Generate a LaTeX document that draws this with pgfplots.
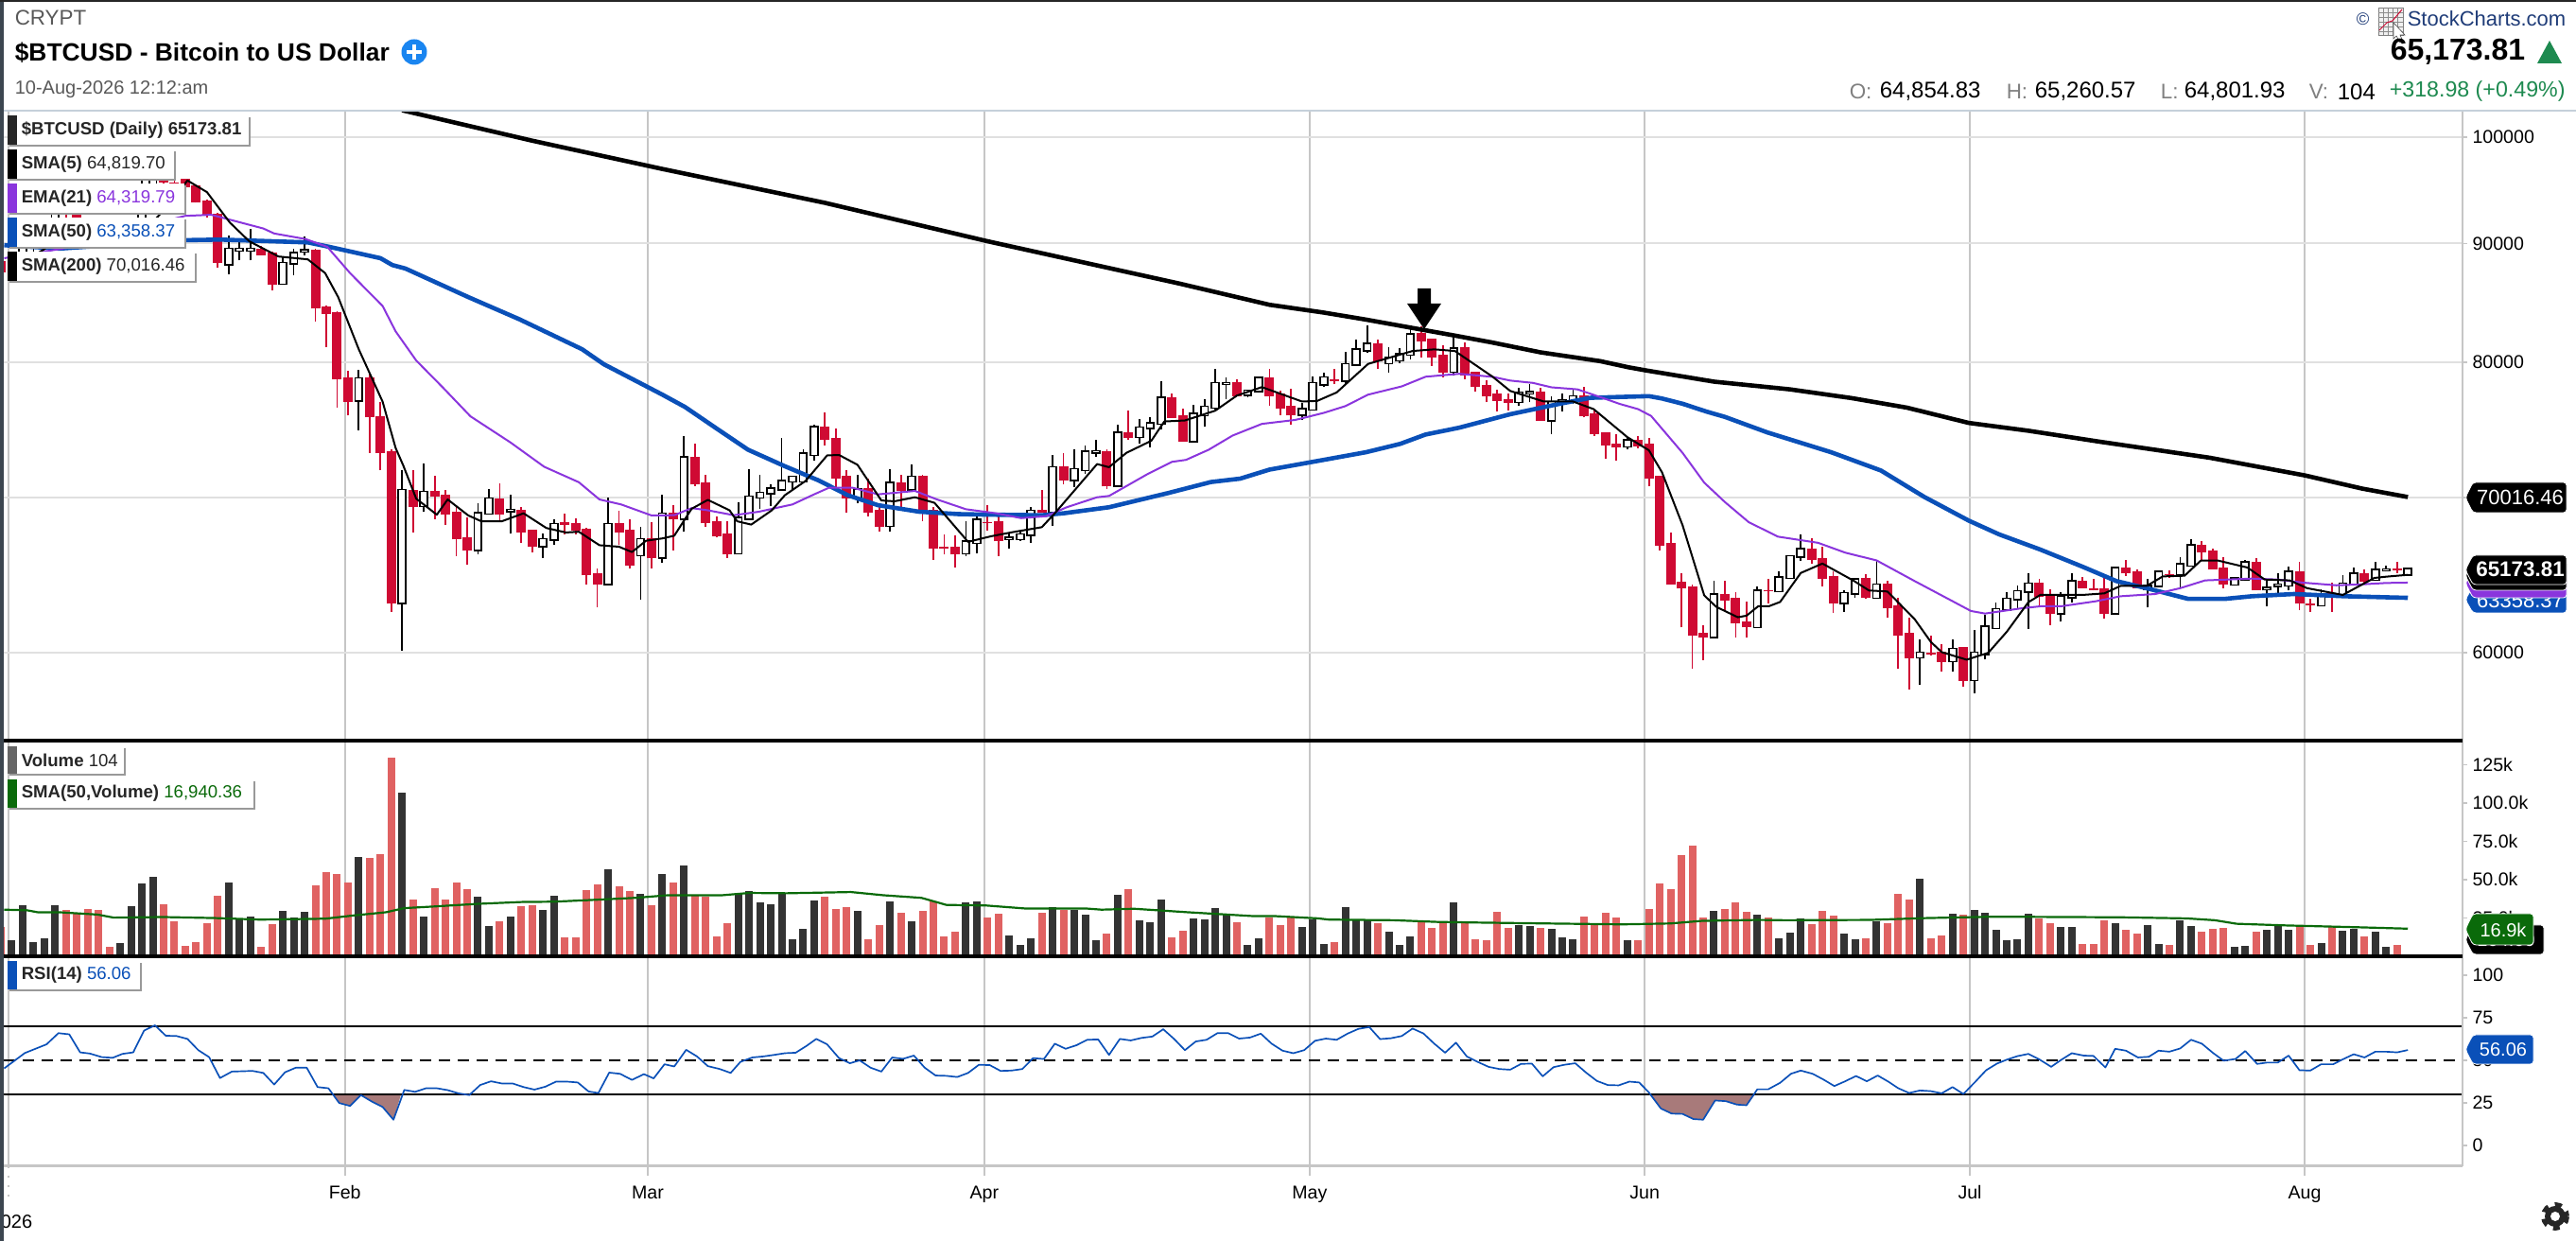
\documentclass[border=0pt]{standalone}
\usepackage{pgfplots}
\usepackage{pgfplotstable}
\usepackage{fontspec}
\setmainfont{Liberation Sans}
\pgfplotsset{compat=1.18}
\definecolor{cred}{HTML}{CF0A33}
\definecolor{vred}{HTML}{E06262}
\definecolor{vblk}{HTML}{333333}
\definecolor{pur}{HTML}{8A35DD}
\definecolor{blu}{HTML}{0A50B8}
\definecolor{grn}{HTML}{0A6A0A}
\definecolor{upg}{HTML}{1E8A50}
\definecolor{vgrid}{HTML}{C6C6C6}
\definecolor{hgrid}{HTML}{E0E0E0}
\definecolor{strip}{HTML}{3C4650}
\definecolor{brn}{HTML}{A87A7A}
\definecolor{navy}{HTML}{1F3C78}
\definecolor{plusb}{HTML}{1A85F0}
\definecolor{topl}{HTML}{C5D0DA}
\newcommand\fs[1]{\fontsize{#1pt}{#1pt}\selectfont}

% d open high low close -- candles that closed higher
\pgfplotstableread{
d o h l c
0 87600 88900 87400 88700
1 88700 90900 88400 89900
2 89900 91000 89300 90600
3 90600 91800 90300 91500
4 91500 94700 91300 93900
10 90400 91000 90300 90900
11 90900 92300 90000 91200
12 91200 96000 91000 95300
13 95300 97800 94900 96900
20 88200 90700 87300 89500
21 89400 90300 88500 89500
22 89400 91300 88500 89500
25 86500 88800 86400 88250
26 88250 89500 87250 89150
27 89300 90600 88950 89400
32 77050 79400 74800 78750
36 63050 71900 60140 70500
38 69400 72400 69000 70350
43 66450 69600 66150 68900
44 68900 70550 68850 69900
46 69050 70200 67500 69100
49 66700 67500 65900 67150
50 67150 68500 66800 68150
55 64250 70000 64250 68150
58 66100 67950 63220 67150
60 65950 70200 65590 68840
62 68540 74380 67640 72800
67 66220 69630 66220 68560
68 68540 71990 68540 70020
69 70000 71600 69200 70300
70 70280 70880 69370 70580
71 70550 74240 70550 71130
72 71110 71500 70490 71410
73 71130 73380 71130 73080
74 73030 75190 72570 75020
78 70000 71600 69570 70530
81 68050 71990 67640 71000
83 70550 72290 70550 71410
88 66220 68330 66060 66970
89 66930 68700 66200 68430
92 67200 67580 66520 67240
93 67170 67680 67050 67460
94 67440 69310 66910 69050
96 69000 72990 68030 72100
98 71230 73380 70720 71970
99 71920 73680 71640 73220
100 73200 74070 72850 73240
102 70830 75190 70830 74610
104 74310 75630 73820 75000
105 74980 75760 73570 75300
106 75300 78540 74840 77250
109 74000 76690 74000 76000
110 75950 77150 75070 76550
111 76500 79510 76390 78360
112 78340 78820 77150 78380
114 77480 77890 77320 77800
115 77780 78940 77620 78770
119 75970 76850 75580 76390
120 76390 78940 76390 78360
121 78310 79170 78130 78800
123 78590 80830 78240 79860
124 79860 81850 79860 81000
125 80970 82970 80780 81450
127 79980 81200 79230 80380
128 80160 81180 79980 80640
129 80640 82800 80240 82250
133 79280 82050 79000 81100
139 76950 77990 76620 77640
140 77620 78290 76900 77660
142 75560 77380 74540 76920
143 77020 77550 76200 77060
144 77010 77940 76780 77360
149 73630 74300 73400 74050
157 60950 64430 60950 63560
161 61560 64080 61560 63800
163 63780 65040 63720 64650
164 64630 66000 64530 66000
165 66000 67480 65710 66480
169 63050 63820 62500 63660
170 63660 64570 63350 64510
172 63390 65750 63390 64170
176 59750 60780 58130 60000
179 59530 60780 58880 60220
181 58410 61380 57640 60000
182 59940 62320 59590 61570
183 61510 63060 61430 62650
184 62650 63710 62650 63300
185 63300 64150 62650 63770
186 63770 64930 61430 64250
189 62400 63710 61870 63400
190 63400 64930 63090 64380
194 62400 65230 62400 65230
197 63950 64560 62750 64100
198 64110 64990 64110 64990
200 64850 65990 64010 65500
201 65440 67130 65440 66720
205 64230 64680 64110 64560
206 64520 65780 64460 65620
208 63900 64420 62850 63970
209 64130 64930 63600 64170
210 64150 65380 63810 64990
213 62890 63910 62890 63600
215 63570 64790 63500 64240
216 64280 65300 64110 64870
218 64520 65640 64420 65130
219 65110 65440 65030 65150
221 64854.83 65260.57 64801.93 65173.81
}\upc

% d open high low close -- candles that closed lower
\pgfplotstableread{
d o h l c
-1 88400 89000 87300 87500
5 93900 94400 91300 93700
6 93700 93700 90900 91300
7 91300 91500 89600 91000
8 91000 91800 89800 90600
9 90600 91400 90100 90400
14 96900 97200 95100 95600
15 95600 95900 94900 95500
16 95900 96000 95000 95200
17 95300 95400 93700 93800
18 93900 94000 92350 92600
19 92700 92800 87900 88300
23 89500 89800 88950 89000
24 89150 89300 85900 86400
28 89400 89500 83300 84400
29 84500 84600 81200 83950
30 84050 84150 76500 78720
31 78800 79350 75900 77000
33 78800 79200 73150 75800
34 75850 76900 71900 73150
35 73250 73400 62500 63000
37 70500 71900 67600 69350
39 70400 71500 68500 70050
40 70150 70500 68100 68850
41 68950 69450 66050 67150
42 67250 68600 65450 66400
45 69900 71000 68350 68850
47 69100 69350 66900 67650
48 67750 67800 66250 66700
51 68250 68850 67450 68150
52 68200 68550 67450 67750
53 67800 67900 64200 64800
54 64900 65250 62760 64250
56 68200 69050 66750 67650
57 67750 68500 65200 65450
59 67200 68300 65250 65900
61 68940 69450 66420 68500
63 72850 73820 70790 70900
64 71040 71600 67990 68230
65 68330 68700 67280 67380
66 67480 68350 65910 66160
75 75070 76180 73680 74120
76 74240 74930 70720 71340
77 71460 71880 68960 69960
79 70600 71300 68700 68940
80 69090 69370 67640 67990
82 71040 71600 69310 70490
84 71460 71600 68350 68940
85 69110 69350 65810 66540
86 66620 67480 66120 66540
87 66620 67380 65300 66160
90 68300 69450 67740 68250
91 68330 68700 66060 67030
95 69100 70490 68940 68940
97 72150 73130 70900 71180
101 73260 73430 70600 70760
103 74630 76320 74120 74240
107 77270 77570 75760 75760
108 75880 76440 73980 73980
113 78400 78700 77390 77430
116 78820 79510 76620 77430
117 77550 77780 75930 76480
118 76600 77960 75230 75930
122 78620 79500 78310 78560
126 81500 81850 79500 80100
130 82330 82900 80400 81700
131 81850 81850 79750 80400
132 80560 81370 78860 79230
134 81180 81600 78700 79000
135 79230 79230 77710 78130
136 78240 78630 76900 77430
137 77550 77850 76200 77040
138 77150 77550 76320 76900
141 77710 77990 75510 75510
145 77380 78130 75760 75880
146 76040 76390 74400 74540
147 74630 74630 72710 73700
148 73820 74540 72570 73560
150 74070 74380 73500 73660
151 73820 74240 70760 71320
152 71460 71460 66400 66770
153 66890 67620 64200 64200
154 64330 64940 61520 63960
155 64080 64230 59080 61030
156 61160 61650 59570 60930
158 63600 64430 62600 63230
159 63350 63720 60910 61790
160 61890 63100 60910 61540
162 63820 64570 63000 63780
166 66520 67230 65550 65790
167 65910 66670 64080 64590
168 64690 65040 62400 63000
171 64570 64840 63310 63370
173 64210 64430 62130 62760
174 62860 63350 59080 61030
175 61160 62130 57870 59700
177 59980 61010 59860 59900
178 60060 60530 58880 59490
180 60300 60300 58030 58370
187 64300 64560 62790 63460
188 63460 63900 61670 62380
191 64420 64680 63970 63970
192 63910 64560 63810 63850
193 63910 64680 62040 62380
195 65270 65780 64730 64930
196 65030 65170 63970 63970
199 64850 65130 64620 64800
202 66760 67000 65780 66290
203 66390 66500 65190 65190
204 65290 65990 63970 64210
207 65640 65900 63850 63850
211 65030 65640 62590 63000
212 62980 63300 62490 62930
214 63620 64320 62490 63580
217 64910 65170 64320 64420
220 65180 65640 64930 65100
}\downc

\pgfplotsset{
  panel/.style={
    scale only axis, width=650pt,
    xmin=-0.741, xmax=226.04,
    axis line style={draw=none},
    xtick={-0.305,30.72,58.66,89.7,119.7,150.6,180.6,211.47},
    xmajorgrids, x grid style={vgrid,line width=0.5pt},
    x tick style={draw=none},
    ytick pos=right, yticklabel pos=right,
    ytick align=outside,
    major tick length=1.25pt,
    y tick style={draw=vgrid,line width=0.4pt},
    tick label style={font=\fs{4.9}},
    yticklabel style={anchor=west,xshift=-2.15pt},
    clip=true,
  },
  wick/.style={draw=none,mark=none,forget plot,
    error bars/.cd,y dir=plus,y explicit,error mark=none,
    error bar style={draw=#1,line width=0.45pt,solid}},
  body/.style n args={3}{draw=none,mark=none,forget plot,
    error bars/.cd,y dir=plus,y explicit,error mark=none,
    error bar style={draw=#1,line width=#2,solid,line cap=butt,shorten >=#3,shorten <=#3}},
}

\begin{document}
\begin{tikzpicture}
\useasboundingbox (0,0) rectangle (681pt,328pt);
\fill[white] (0,0) rectangle (681pt,328pt);

% ---- price panel
\begin{axis}[panel, at={(1pt,132.25pt)}, anchor=south west, height=166.5pt,
  ymode=log, ymin=55008, ymax=102680, yminorticks=false,
  ytick={60000,70000,80000,90000,100000},
  yticklabels={60000,70000,80000,90000,100000},
  ymajorgrids, y grid style={hgrid,line width=0.5pt},
  xticklabels={}]
\addplot[wick=cred] table[x=d,y=l,y error plus expr=\thisrow{h}-\thisrow{l}]{\downc};
\addplot[wick=black] table[x=d,y=l,y error plus expr=\thisrow{h}-\thisrow{l}]{\upc};
\addplot[body={cred}{2.5pt}{-0.1pt}] table[x=d,y=c,y error plus expr=\thisrow{o}-\thisrow{c}]{\downc};
\addplot[body={black}{2.4pt}{-0.375pt}] table[x=d,y=o,y error plus expr=\thisrow{c}-\thisrow{o}]{\upc};
\addplot[body={white}{1.5pt}{0pt}] table[x=d,y=o,y error plus expr=\thisrow{c}-\thisrow{o}]{\upc};
% SMA(200)
\addplot[black,line width=1.15pt,line join=round] coordinates {
(36,102700)(48,99650)(60,96900)(75,93700)(90,90200)(107.7,86500)(116,84700)(121,84050)(125,83450)(133,82170)(136.5,81600)(141,80800)(146.5,80100)(149.1,79630)(150.6,79400)(157,78500)(164,77900)(169.7,77230)(174.8,76500)(180.5,75350)(186,74770)(192.6,73960)(202.7,72800)(211.5,71530)(216.8,70600)(221,70016.46)};
% SMA(50)
\addplot[blu,line width=1.15pt,line join=round] coordinates {
(-0.7,89850)(4.4,89550)(16,90300)(19.2,90350)(27.3,90100)(29.3,89700)(34,88700)(35.1,88100)(36.3,87800)(42.1,85350)(46.8,83500)(52.6,81050)(54.6,79870)(60,77500)(62.1,76550)(65.1,74880)(67.9,73380)(71.3,72180)(74.4,71180)(77.1,70140)(79.9,69450)(83.7,69000)(87.3,68840)(90.4,68800)(95,68760)(97,68900)(101.2,69310)(106.7,70300)(110.6,71060)(113.3,71300)(116,71940)(121,72640)(124.9,73200)(128.05,73800)(130.4,74490)(133.5,75000)(138.2,76000)(142.8,76800)(145.6,77250)(151,77380)(152.2,77200)(154.1,76800)(156.3,76200)(158,75810)(161.9,74650)(167.8,73190)(172.4,71880)(176.4,70020)(180.5,68390)(183.3,67470)(187.1,66460)(191,65340)(194.1,64420)(197.2,63910)(200.7,63300)(204.2,63300)(206.6,63460)(210.5,63600)(215.2,63460)(221,63358.37)};
% EMA(21)
\addplot[pur,line width=0.5pt,line join=round] coordinates {
(-0.7,88700)(5,89600)(10,90800)(14,92000)(16,92500)(18.4,92600)(23.2,91350)(24.2,90900)(27.1,90400)(29.1,89700)(31.2,87400)(34.2,84600)(35.4,82500)(37.3,80150)(39.8,78000)(42.3,75850)(46,73900)(49.1,72150)(52.3,71050)(54.2,69850)(56.2,69500)(59,68750)(61.1,68760)(62.7,69250)(64.2,69100)(66.6,68760)(68.9,69000)(72,69500)(74,70200)(75.4,70670)(77.5,70670)(79.9,70200)(83.3,70440)(85.3,69860)(88,69170)(90.8,68900)(93.1,68560)(95.4,68700)(97.3,69310)(100.1,70000)(101.2,70090)(104.7,71600)(107,72500)(108.3,72640)(110.4,73380)(112.6,74420)(115.3,75280)(118.4,75580)(121,76100)(123,76620)(125.1,77500)(128.2,78130)(130.4,78890)(133.5,79120)(136.6,78870)(138.2,78590)(140.3,78400)(142,78060)(144.4,77900)(146.7,77250)(148.3,76780)(150,76390)(151.2,75880)(154.1,73150)(156.1,71020)(158,69670)(160.2,68290)(162.9,67320)(166.6,66910)(169.1,66260)(172,65750)(175.5,64420)(179,63150)(180.7,62540)(182,62380)(185.2,62690)(187.1,62830)(189,62830)(192.2,63140)(194.5,63460)(197.7,63600)(200,63970)(202.3,64460)(206.6,64580)(209,64520)(211.3,64320)(214.4,64150)(216.7,64210)(219,64300)(221,64319.79)};
% SMA(5)
\addplot[black,line width=0.5pt,line join=round] coordinates {
(0,87800)(3,89500)(6,92000)(9,91800)(12,90900)(14,93000)(16.2,95800)(18,94700)(20.1,91900)(21.9,90200)(24.6,88850)(27.3,88600)(28.9,87400)(30.1,85350)(32,81050)(34.2,76950)(35.4,73500)(36.1,72250)(37.3,69900)(39.2,68800)(40.2,69850)(42.1,68750)(43.3,68350)(45.2,68350)(47.2,68900)(49.3,67900)(51.1,67600)(52.3,67650)(54.2,66750)(56,66650)(57.2,66300)(58.5,67050)(60,67200)(61.1,67380)(62.7,69200)(64.2,69820)(66.2,69100)(66.9,68350)(68.2,68130)(70.1,69100)(71.3,70140)(73.2,71130)(75.2,72960)(76.3,72990)(78,72290)(80.2,69780)(81.4,69720)(83.3,70000)(85.1,69610)(88.2,66970)(90.3,67340)(92.3,67620)(95,67950)(96.2,68900)(100.1,72340)(101.2,72110)(102.8,73150)(105.1,74030)(106.3,75460)(108.2,75530)(111,76270)(113,77430)(115.3,78080)(119,76970)(120.4,77010)(122.2,77660)(125.1,79900)(127.3,80430)(129.2,80910)(131.2,81040)(133.1,80910)(136.6,78870)(138.2,77780)(141.3,76970)(144,76970)(145.9,76390)(149,74300)(151,73330)(152.2,71760)(154.1,68090)(156.1,63510)(157.2,62800)(159.2,62150)(160,62250)(161.1,62840)(162.1,62840)(163.1,63100)(165,64940)(167,65550)(169.9,64430)(171.3,63820)(173,63760)(175.5,62040)(177,60650)(178,60040)(180.3,59590)(182.3,60000)(184,61260)(186,63090)(187.1,63540)(191,63540)(193,63640)(194.5,64110)(196.9,64110)(198.4,64720)(200.4,64760)(201.9,65740)(203.5,65740)(206.2,65290)(207.8,64520)(210.1,64460)(211.7,63970)(215,63540)(217.9,64620)(219,64700)(221,64819.70)};
\end{axis}

% ---- volume panel
\begin{axis}[panel, at={(1pt,75.25pt)}, anchor=south west, height=57pt,
  ymin=0, ymax=140.7,
  ytick={25,50,75,100,125},
  yticklabels={25.0k,50.0k,75.0k,100.0k,125k},
  xticklabels={}]
\addplot[ycomb,vred,line width=2pt,forget plot] table[x=d,y=v]{
d v
-1 18.9
5 30.4
6 28.3
7 30.8
8 30.2
9 5.9
14 34.2
15 23.1
16 6.7
17 9.4
18 21.6
19 39.2
23 6.3
24 20.8
28 46.1
29 54.9
30 53.4
31 48.2
33 63.9
34 66.4
35 129.3
37 36.7
39 44.6
40 36.7
41 48.4
42 44.0
45 23.1
47 32.9
48 33.3
51 12.6
52 12.6
53 43.4
54 46.7
56 45.9
57 42.5
59 33.1
61 48.4
63 39.8
64 39.0
65 12.8
66 21.8
75 39.0
76 31.0
77 32.3
79 11.1
80 20.1
82 28.3
84 29.6
85 35.6
86 13.2
87 15.9
90 25.4
91 27.5
95 28.1
97 30.0
101 14.7
103 44.0
107 12.2
108 16.8
113 22.2
116 25.2
117 20.1
118 25.2
122 9.4
126 21.6
130 22.4
131 18.2
132 22.4
134 23.1
135 10.9
136 10.7
137 28.7
138 18.2
141 18.4
145 26.0
146 21.4
147 28.3
148 25.2
150 10.3
151 30.6
152 47.4
153 44.0
154 65.8
155 71.9
156 25.2
158 30.8
159 35.0
160 28.7
162 25.4
166 20.8
167 29.3
168 26.6
171 11.5
173 21.6
174 40.7
175 36.7
177 11.9
178 13.8
180 27.0
187 24.7
188 21.4
191 7.8
192 7.8
193 23.7
195 17.4
196 15.1
199 7.3
202 16.3
203 17.6
204 18.2
207 15.9
211 20.5
212 7.3
214 18.9
217 12.8
220 7.1
};
\addplot[ycomb,vblk,line width=2pt,forget plot] table[x=d,y=v]{
d v
0 10.5
1 33.1
2 9.4
3 11.5
4 33.5
10 8.4
11 32.9
12 47.2
13 52.0
20 48.2
21 24.7
22 26.2
25 29.8
26 25.2
27 28.7
32 64.8
36 106.9
38 25.6
43 38.8
44 19.5
46 25.8
49 30.4
50 39.2
55 57.0
58 40.5
60 53.9
62 59.5
67 41.1
68 42.5
69 35.4
70 34.2
71 41.3
72 10.9
73 17.6
74 36.5
78 29.3
81 35.6
83 22.6
88 35.0
89 35.6
92 13.8
93 7.5
94 11.5
96 32.3
98 30.4
99 27.2
100 10.7
102 39.8
104 23.3
105 22.4
106 36.9
109 24.5
110 24.1
111 31.2
112 27.2
114 7.5
115 11.5
119 19.1
120 24.1
121 7.8
123 32.1
124 23.7
125 23.7
127 15.9
128 7.5
129 13.2
133 35.0
139 20.1
140 19.5
142 17.8
143 12.6
144 10.9
149 10.5
157 29.3
161 27.0
163 11.7
164 15.3
165 24.7
169 14.5
170 11.3
172 22.6
176 50.3
179 27.7
181 30.0
182 28.3
183 17.2
184 10.7
185 10.9
186 27.5
189 18.9
190 18.9
194 21.6
197 20.1
198 7.8
200 23.3
201 19.5
205 6.1
206 6.9
208 17.0
209 19.7
210 17.4
213 8.8
215 16.8
216 17.6
218 15.9
219 5.9
221 0.104
};
\addplot[grn,line width=0.55pt,line join=round] coordinates {
(-0.7,30.4)(1.4,30.0)(2.4,28.7)(4.4,28.7)(7.9,27.2)(9.4,25.2)(13.9,25.6)(18.9,24.9)(22.9,23.9)(28.9,24.5)(31.5,26.6)(34.5,28.7)(36.2,31.4)(39,32.5)(43,34.2)(47,35.4)(50,35.6)(54,36.9)(57.5,38.1)(60.5,39.8)(65.5,39.8)(68,41.3)(71.5,41.1)(77.4,41.9)(80.4,39.8)(83.9,38.1)(86.2,33.5)(89.9,33.1)(93.4,31.2)(99,31.2)(100.5,30.4)(103.5,31.0)(108.5,28.7)(114.5,26.2)(116.5,26.2)(120.5,24.7)(121.5,23.9)(127.5,23.5)(131.5,22.4)(135,22.0)(141.5,21.4)(148.5,20.8)(153,21.4)(155.9,23.1)(161,23.7)(163.6,23.5)(171.3,23.7)(176.5,24.9)(182.6,25.8)(189.5,25.6)(194.7,25.4)(200.6,24.7)(203.2,23.5)(205.2,21.2)(209.8,20.1)(216.5,18.9)(221,18.0)};
\end{axis}

% ---- RSI panel
\begin{axis}[panel, at={(1pt,19.825pt)}, anchor=south west, height=55.425pt,
  ymin=-12.09, ymax=111.2,
  ytick={0,25,50,75,100},
  yticklabels={0,25,50,75,100},
  xticklabels={,Feb,Mar,Apr,May,Jun,Jul,Aug},
  xticklabel style={yshift=-1.7pt}]
\addplot[fill=brn,draw=none,forget plot] coordinates {(29.6,30)(30.2,24.9)(31.2,23.2)(32.2,29.6)(33.2,25.8)(34.2,22.6)(35.2,15.1)(35.9,30)};
\addplot[fill=brn,draw=none,forget plot] coordinates {(151.1,30)(152.1,21.7)(153.1,18.7)(154.1,18.5)(155.1,15.5)(156,15.1)(157.1,26.4)(158.1,26)(159.1,24)(160,23.6)(160.8,30)};
\addplot[black,line width=0.5pt,forget plot] coordinates {(-0.741,70)(226.04,70)};
\addplot[black,line width=0.5pt,forget plot] coordinates {(-0.741,30)(226.04,30)};
\addplot[black,line width=0.5pt,dash pattern=on 3pt off 2pt,forget plot] coordinates {(-0.741,50)(226.04,50)};
\addplot[blu,line width=0.42pt,line join=round] coordinates {
(-0.7,45.3)(1.2,54.3)(3.2,59.4)(4.3,66.0)(5.3,65.3)(6.3,54.7)(7.2,54.0)(8.3,51.9)(9.3,51.5)(10.2,53.8)(11.2,54.7)(12.2,67.5)(13.2,70.6)(14.2,64.5)(15.2,64.3)(16.2,62.6)(17.2,56.0)(18.2,51.9)(19.2,39.6)(20.3,43.4)(22.2,43.8)(23.2,42.6)(24.2,35.8)(25.2,43.0)(26.2,45.7)(27.2,45.7)(28.2,34.3)(29.2,33.6)(30.2,24.9)(31.2,23.2)(32.2,29.6)(33.2,25.8)(34.2,22.6)(35.2,15.1)(36.2,32.6)(37.2,31.5)(38.2,33.6)(39.2,33.6)(40.2,32.5)(41.2,30.6)(42.2,29.6)(43.2,35.5)(44.2,37.7)(45.2,36.4)(46.2,36.4)(47.2,34.3)(48.2,32.8)(49.2,34.5)(50.2,37.5)(51.2,37.5)(52.2,37.0)(53.2,31.7)(54.1,30.8)(55.1,42.8)(56.1,42.1)(57.2,38.5)(58.3,41.9)(59.2,39.4)(60.2,47.7)(61.1,46.4)(62.2,56.2)(63.2,52.3)(64.2,46.6)(65.3,44.9)(66.3,42.6)(67.2,49.1)(68.3,51.7)(69.3,52.3)(70.3,53.2)(71.3,54.2)(72.3,54.5)(73.3,58.5)(74.2,62.6)(75.2,59.4)(76.3,51.3)(77.3,48.3)
(78.2,50.0)(79.2,45.7)(80.2,43.4)(81.2,51.7)(82.2,50.9)(83.2,52.8)(84.2,45.7)(85.2,41.1)(86.2,40.9)(87.2,40.2)(88.2,42.6)(89.2,47.4)(90.2,47.2)(91.2,43.8)(92.2,44.0)(93.2,44.9)(94.2,51.3)(95.2,50.8)(96.2,59.8)(97.2,56.8)(98.2,58.9)(99.2,62.1)(100.2,62.3)(101.2,53.2)(102.2,62.6)(103.2,61.7)(104.2,63.2)(105.2,64.0)(106.2,68.3)(107.2,62.6)(108.2,56.0)(109.2,61.1)(110.2,62.1)(111.2,66.0)(112.2,66.0)(113.2,62.8)(114.2,63.4)(115.2,65.7)(116.2,59.8)(117.2,55.7)(118.2,54.2)(119.2,56.0)(120.2,61.5)(121.2,62.8)(122.2,62.1)(123.2,65.7)(124.2,68.5)(125.2,69.6)(126.2,62.5)(127.2,63.0)(128.2,64.3)(129.2,68.7)(130.2,65.8)(131.2,59.8)(132.2,54.5)(133.2,60.4)(134.2,52.3)(135.2,49.1)(136.2,46.2)(137.2,44.9)(138.2,44.5)(139.2,47.9)(140.2,48.1)(141.2,40.6)(142.2,46.0)(143.2,47.4)(144.2,48.3)(145.2,42.8)(146.2,37.9)(147.2,35.5)(148.2,35.3)(149.2,37.5)(150.1,37.0)(151,31.1)(152.1,21.7)(153.1,18.7)(154.1,18.5)(155.1,15.5)(156,15.1)
(157.1,26.4)(158.1,26.0)(159.1,24.0)(160,23.6)(161,33.0)(162,33.0)(163.1,36.8)(164.1,42.1)(165,44.0)(166.1,42.1)(167.1,38.7)(168.1,34.9)(169.1,37.7)(170.1,40.8)(171.1,37.7)(172.1,41.1)(173.1,37.4)(174,33.6)(175,30.8)(176,32.3)(177,31.9)(178,30.6)(179,34.3)(180,30.2)(181.1,37.4)(182.1,44.2)(183.1,48.1)(184,50.4)(185,52.5)(186,53.8)(187,50.6)(188.1,46.2)(189,50.2)(190,54.2)(191.1,52.8)(192,52.6)(193.1,45.8)(194,56.8)(195,55.7)(196.1,51.7)(197.1,52.1)(198,55.7)(199,55.1)(200,57.0)(201,62.1)(202,59.8)(203,54.5)(204,49.8)(205.1,50.8)(206,55.5)(207.1,47.9)(208,48.7)(209,48.7)(210,52.8)(211,44.2)(212,44.0)(213,47.7)(214.1,47.7)(215,50.6)(216,53.6)(217,51.7)(218,55.1)(219,55.1)(220,54.7)(221,56.06)};
\end{axis}

% ---- frame and annotations, in picture pixels
\begin{scope}[x=0.25pt,y=-0.25pt,shift={(0pt,328pt)}]
  \draw[vgrid,line width=0.5pt] (2604,117)--(2604,1233);
  \draw[vgrid,line width=0.6pt] (4,1232.7)--(2604,1232.7);
  \draw[black,line width=0.85pt] (4,783)--(2604,783);
  \draw[black,line width=0.85pt] (4,1011)--(2604,1011);
  \draw[topl,line width=0.5pt] (0,117)--(2724,117);
  \foreach \xx in {364.7,685,1041,1385,1739,2083,2437} \draw[vgrid,line width=0.5pt] (\xx,1232)--(\xx,1243);
  \draw[vgrid,line width=0.5pt,dotted] (9,1233)--(9,1272);
  \node[anchor=east,inner sep=0,font=\fs{5}] at (35,1292) {2026};

  % arrow
  \fill[black] (1499,305)--(1513,305)--(1513,321)--(1524,321)--(1506,348)--(1488,321)--(1499,321)--cycle;

  % header
  \node[anchor=west,inner sep=0,font=\fs{5.6},text=black!65] at (15,19) {CRYPT};
  \node[anchor=west,inner sep=0,font=\fs{6.6}\bfseries] at (15,56) {\$BTCUSD - Bitcoin to US Dollar};
  \node[anchor=west,inner sep=0,font=\fs{5},text=black!65] at (15,95) {10-Aug-2026 12:12:am};
  \fill[plusb] (438,55) circle[radius=13.5];
  \draw[white,line width=0.85pt] (430,55)--(446,55) (438,47)--(438,63);

  % top right
  \node[anchor=west,inner sep=0,font=\fs{4.6},text=navy] at (2491,20) {©};
  \draw[black!50,line width=0.15pt,fill=black!6] (2515,8) rectangle (2541,37);
  \foreach \xx in {2520,2525,2530,2535} \draw[black!45,line width=0.12pt] (\xx,8)--(\xx,37);
  \foreach \yy in {13,18,23,28,33} \draw[black!45,line width=0.12pt] (2515,\yy)--(2541,\yy);
  \draw[cred,line width=0.25pt] (2516,32)--(2524,24)--(2530,22)--(2540,10);
  \fill[white,draw=black!70,line width=0.15pt] (2531,24)--(2543,37)--(2538,37)--(2541,44)--(2538,45)--(2534,38)--(2531,41)--cycle;
  \node[anchor=west,inner sep=0,font=\fs{5.5},text=navy] at (2545,20) {StockCharts.com};
  \node[anchor=east,inner sep=0,font=\fs{8}\bfseries] at (2671,55) {65,173.81};
  \fill[upg] (2683,67)--(2696,43)--(2709,67)--cycle;
  \node[anchor=west,inner sep=0,font=\fs{5.6},text=black!50] at (1955,97) {O:};
  \node[anchor=west,inner sep=0,font=\fs{6}] at (1987,97) {64,854.83};
  \node[anchor=west,inner sep=0,font=\fs{5.6},text=black!50] at (2121,97) {H:};
  \node[anchor=west,inner sep=0,font=\fs{6}] at (2151,97) {65,260.57};
  \node[anchor=west,inner sep=0,font=\fs{5.6},text=black!50] at (2284,97) {L:};
  \node[anchor=west,inner sep=0,font=\fs{6}] at (2309,97) {64,801.93};
  \node[anchor=west,inner sep=0,font=\fs{5.6},text=black!50] at (2441,97) {V:};
  \node[anchor=west,inner sep=0,font=\fs{6}] at (2471,97) {104};
  \node[anchor=west,inner sep=0,font=\fs{5.8},text=upg] at (2526,97) {+318.98 (+0.49\%)};

  % legend boxes: #1 colour, #2 top, #3 bottom, #4 right
  \def\lbox#1#2#3#4{%
    \fill[black!40] (10,#2+2) rectangle (#4+2,#3+2);
    \fill[white] (8,#2) rectangle (#4,#3);
    \fill[#1] (8,#2) rectangle (18,#3);}
  \lbox{black!85}{122}{153}{263}
  \node[anchor=west,inner sep=0,font=\fs{4.65}\bfseries,text=black!85] at (22,137.5) {\$BTCUSD (Daily) 65173.81};
  \lbox{black}{158}{189}{184}
  \node[anchor=west,inner sep=0,font=\fs{4.65},text=black!85] at (22,173.5) {\textbf{SMA(5)} 64,819.70};
  \lbox{pur}{194}{225}{195}
  \node[anchor=west,inner sep=0,font=\fs{4.65},text=pur] at (22,209.5) {\textcolor{black!85}{\textbf{EMA(21)}} 64,319.79};
  \lbox{blu}{230}{261}{195}
  \node[anchor=west,inner sep=0,font=\fs{4.65},text=blu] at (22,245.5) {\textcolor{black!85}{\textbf{SMA(50)}} 63,358.37};
  \lbox{black}{266}{297}{206}
  \node[anchor=west,inner sep=0,font=\fs{4.65},text=black!85] at (22,281.5) {\textbf{SMA(200)} 70,016.46};
  \lbox{black!60}{789}{818}{131}
  \node[anchor=west,inner sep=0,font=\fs{4.65},text=black!85] at (22,803.5) {\textbf{Volume} 104};
  \lbox{grn}{824}{854}{268}
  \node[anchor=west,inner sep=0,font=\fs{4.65},text=grn] at (22,839) {\textcolor{black!85}{\textbf{SMA(50,Volume)}} 16,940.36};
  \lbox{blu}{1016}{1046}{148}
  \node[anchor=west,inner sep=0,font=\fs{4.65},text=blu] at (22,1031) {\textcolor{black!85}{\textbf{RSI(14)}} 56.06};

  % price flags: #1 colour, #2 top, #3 bottom, #4 right
  \def\flag#1#2#3#4{%
    \fill[#1,rounded corners=0.8pt,draw=white,line width=0.2pt] (2607,{(#2+#3)/2})--(2615,#2)--(#4,#2)--(#4,#3)--(2615,#3)--cycle;}
  \flag{black}{510}{542}{2714}
  \node[text=white,inner sep=0,font=\fs{5.5}] at (2665,526) {70016.46};
  \flag{blu}{620}{648}{2714}
  \node[text=white,inner sep=0,font=\fs{5.5}] at (2665,635) {63358.37};
  \flag{pur}{601}{632}{2714}
  \flag{black}{593}{624}{2714}
  \flag{black}{587}{618}{2714}
  \node[text=white,inner sep=0,font=\fs{5.6}\bfseries] at (2665,602) {65173.81};
  \flag{black}{978}{1009}{2690}
  \node[text=white,inner sep=0,font=\fs{5}] at (2650,994) {104.00};
  \flag{grn}{966}{999}{2679}
  \node[text=white,inner sep=0,font=\fs{5}] at (2647,983) {16.9k};
  \flag{blu}{1094}{1125}{2679}
  \node[text=white,inner sep=0,font=\fs{5}] at (2647,1110) {56.06};

  % gear
  \fill[black!85] (2702,1286) circle[radius=11];
  \draw[black!85,line width=1.5pt,dash pattern=on 1.7pt off 1.8pt] (2702,1286) circle[radius=12];
  \fill[white] (2702,1286) circle[radius=5];

  % window edges
  \fill[strip] (0,0) rectangle (4,1312);
  \fill[black!85] (0,0) rectangle (2724,2);
\end{scope}
\end{tikzpicture}
\end{document}
